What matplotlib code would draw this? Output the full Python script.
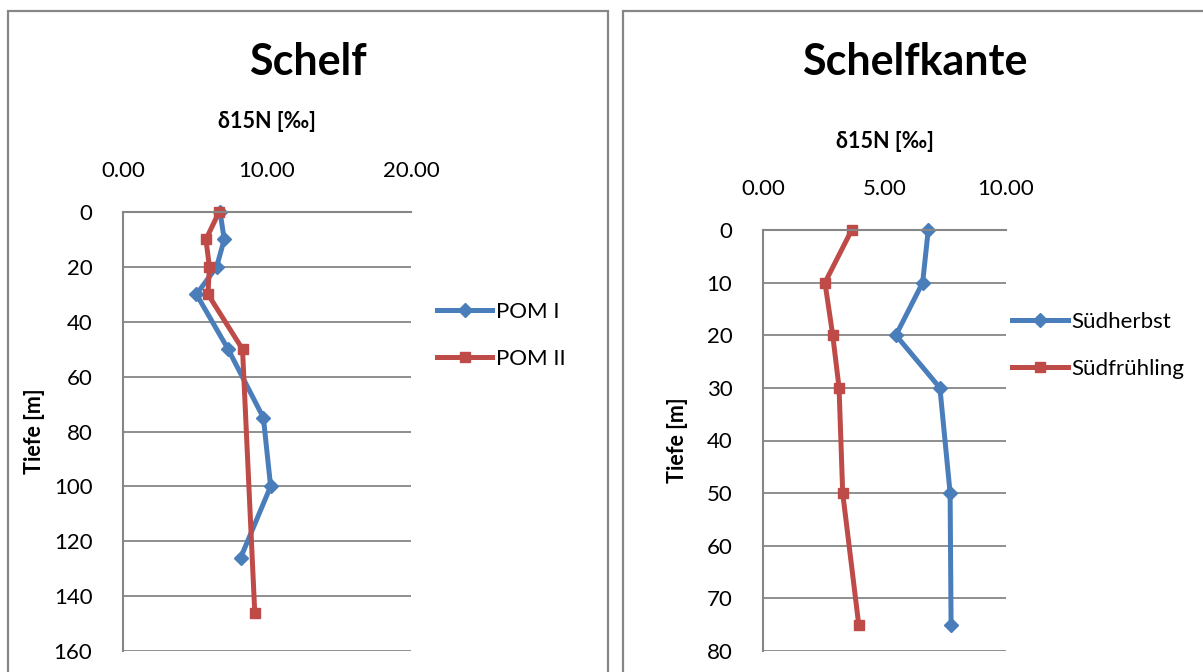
import matplotlib.pyplot as plt
from matplotlib.patches import Rectangle

plt.rcParams['font.family'] = ['Lato', 'DejaVu Sans']

# Schelf
schelf_depth_1 = [0, 10, 20, 30, 50, 75, 100, 126]
schelf_pom_1 = [6.74, 7.03, 6.5, 5.1, 7.3, 9.75, 10.25, 8.17]
schelf_depth_2 = [0, 10, 20, 30, 50, 146]
schelf_pom_2 = [6.67, 5.76, 6.0, 5.9, 8.3, 9.15]
schelf_labels = ["POM I", "POM II"]

# Schelfkante
kante_depth = [0, 10, 20, 30, 50, 75]
kante_herbst = [6.8, 6.57, 5.47, 7.28, 7.7, 7.74]
kante_fruehling = [3.65, 2.55, 2.87, 3.13, 3.28, 3.94]
kante_labels = ["Südherbst", "Südfrühling"]

BLUE = "#4A7EBB"
RED = "#BE4B48"
GRID = "#868686"

W, H = 1203, 672
fig = plt.figure(figsize=(W / 100, H / 100), dpi=100)


def px(x0, y0, x1, y1):
    # pixel box -> figure fraction [left, bottom, width, height]
    return [x0 / W, 1 - y1 / H, (x1 - x0) / W, (y1 - y0) / H]


# chart frames (bottom runs off the page)
for x0, x1 in [(8, 608), (623, 1215)]:
    fig.patches.append(Rectangle((x0 / W, -0.1), (x1 - x0) / W, 1.1 - 11 / H,
                                 transform=fig.transFigure, fill=False,
                                 edgecolor="#878787", lw=1.6))


def style_axes(ax, xmax, xstep, ymax, ystep, xlab_y, ylab_x):
    ax.set_xlim(0, xmax)
    ax.set_ylim(ymax, 0)
    ax.set_xticks(range(0, xmax + 1, xstep))
    ax.set_xticklabels(["%.2f" % v for v in range(0, xmax + 1, xstep)])
    ax.set_yticks(range(0, ymax + 1, ystep))
    ax.xaxis.tick_top()
    ax.xaxis.set_label_position("top")
    ax.tick_params(length=0, labelsize=16, pad=22)
    ax.tick_params(axis="x", pad=22)
    ax.grid(axis="y", color=GRID, lw=1.3)
    ax.set_axisbelow(True)
    for s in ["right", "bottom"]:
        ax.spines[s].set_visible(False)
    for s in ["left", "top"]:
        ax.spines[s].set_color(GRID)
        ax.spines[s].set_linewidth(1.5)
    ax.set_xlabel("δ15N [‰]", fontsize=15.5, fontweight="bold")
    ax.set_ylabel("Tiefe [m]", fontsize=15.5, fontweight="bold")
    ax.xaxis.set_label_coords(0.5, xlab_y)
    ax.yaxis.set_label_coords(ylab_x, 0.5)


line_kw = dict(lw=3.6, solid_joinstyle="round", clip_on=False)
leg_kw = dict(loc="center left", frameon=False, fontsize=16, handlelength=2.5,
              handletextpad=0.15, labelspacing=1.2, borderpad=0, borderaxespad=0)

ax1 = fig.add_axes(px(123, 212, 411, 651))
ax1.plot(schelf_pom_1, schelf_depth_1, color=BLUE, marker="D", ms=7.5,
         label=schelf_labels[0], **line_kw)
ax1.plot(schelf_pom_2, schelf_depth_2, color=RED, marker="s", ms=7,
         label=schelf_labels[1], **line_kw)
style_axes(ax1, 20, 10, 160, 20, 1.191, -0.271)
ax1.legend(bbox_to_anchor=(1.09, 0.719), **leg_kw)
fig.text(308 / W, 1 - 62 / H, "Schelf", ha="center", va="center",
         fontsize=31, fontweight="bold")

ax2 = fig.add_axes(px(763, 230, 1006, 651))
ax2.plot(kante_herbst, kante_depth, color=BLUE, marker="D", ms=7.5,
         label=kante_labels[0], **line_kw)
ax2.plot(kante_fruehling, kante_depth, color=RED, marker="s", ms=7,
         label=kante_labels[1], **line_kw)
style_axes(ax2, 10, 5, 80, 10, 1.195, -0.309)
ax2.legend(bbox_to_anchor=(1.025, 0.726), **leg_kw)
fig.text(915 / W, 1 - 62 / H, "Schelfkante", ha="center", va="center",
         fontsize=31, fontweight="bold")

fig.savefig("out.png", dpi=100)
